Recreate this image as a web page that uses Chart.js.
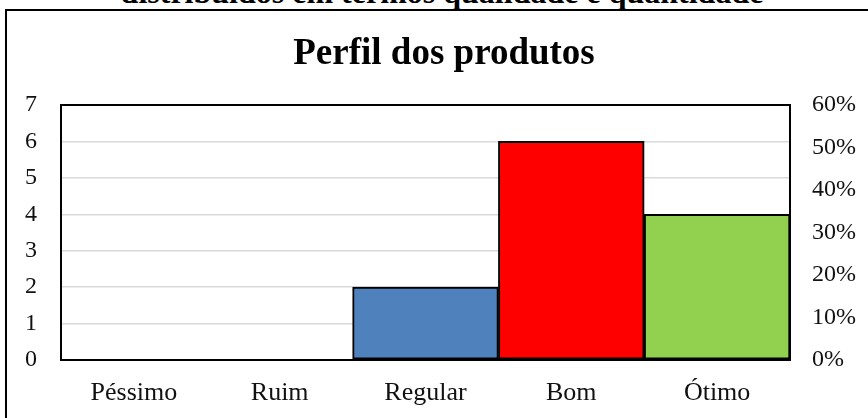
<!DOCTYPE html>
<html>
<head>
<meta charset="utf-8">
<script src="https://cdn.jsdelivr.net/npm/chart.js@4.4.1/dist/chart.umd.min.js"></script>
<style>
    html, body {margin: 0; padding: 0; background: #fff; overflow: hidden;}
    body {width: 868px; height: 418px; position: relative;}
    .caption {
        position: absolute; left: 0; top: -24px; width: 884px;
        text-align: center; font: bold 32px/32px 'Liberation Serif', 'Times New Roman', serif;
        color: #000; white-space: nowrap;
    }
    .frame {
        position: absolute; left: 5px; top: 9px; width: 900px; height: 450px;
        border: 2px solid #000;
    }
    #perfil {position: absolute; left: 0; top: 0;}
</style>
</head>
<body>
<div class="caption">distribuídos em termos qualidade e quantidade</div>
<div class="frame"></div>
<canvas id="perfil" width="868" height="418"></canvas>
<script>
// categorias e quantidades
const categorias = ['Péssimo', 'Ruim', 'Regular', 'Bom', 'Ótimo']
const quantidades = [0, 0, 2, 6, 4]
const coresBarras = ['#4F81BD', '#4F81BD', '#4F81BD', '#FF0000', '#92D050']

// eixos
const eixoQtdMax = 7
const eixoPctMax = 0.6
const eixoPctPasso = 0.1

const serif = "'Liberation Serif', 'Times New Roman', serif"
Chart.defaults.font.family = serif
Chart.defaults.color = '#111'

// moldura preta em volta da área do gráfico
const areaBorder = {
    id: 'areaBorder',
    afterDatasetsDraw(chart) {
        const {ctx, chartArea} = chart
        ctx.save()
        ctx.strokeStyle = '#000'
        ctx.lineWidth = 2
        ctx.strokeRect(chartArea.left, chartArea.top, chartArea.right - chartArea.left, chartArea.bottom - chartArea.top)
        ctx.restore()
    }
}

const ctx = document.getElementById('perfil').getContext('2d')
const perfilChart = new Chart(ctx, {
    type: 'bar',
    data: {
        labels: categorias,
        datasets: [{
            label: 'Quantidade',
            data: quantidades,
            backgroundColor: coresBarras,
            borderColor: '#000',
            borderWidth: 2,
            borderSkipped: false,
            barPercentage: 1,
            categoryPercentage: 1,
            yAxisID: 'y'
        }]
    },
    options: {
        responsive: false,
        animation: false,
        layout: {padding: {left: 20, right: 0, top: 0, bottom: 0}},
        plugins: {
            legend: {display: false},
            tooltip: {enabled: false},
            title: {
                display: true,
                text: 'Perfil dos produtos',
                color: '#000',
                font: {size: 37, weight: 'bold', family: serif},
                padding: {top: 32, bottom: 28.6}
            }
        },
        scales: {
            x: {
                grid: {display: false, drawTicks: false},
                border: {display: false},
                ticks: {font: {size: 26}, padding: 18},
                afterFit: (scale) => { scale.height = 58 }
            },
            y: {
                position: 'left',
                min: 0, max: eixoQtdMax,
                grid: {color: '#d9d9d9', lineWidth: 1.5, drawTicks: false},
                border: {display: false},
                ticks: {stepSize: 1, font: {size: 24}, padding: 24},
                afterFit: (scale) => { scale.width = 41 }
            },
            pct: {
                position: 'right',
                min: 0, max: eixoPctMax,
                grid: {display: false, drawTicks: false},
                border: {display: false},
                ticks: {
                    stepSize: eixoPctPasso, font: {size: 24}, padding: 22,
                    callback: (value) => Math.round(value * 100) + '%'
                },
                afterFit: (scale) => { scale.width = 78 }
            }
        }
    },
    plugins: [areaBorder]
})
</script>
</body>
</html>
